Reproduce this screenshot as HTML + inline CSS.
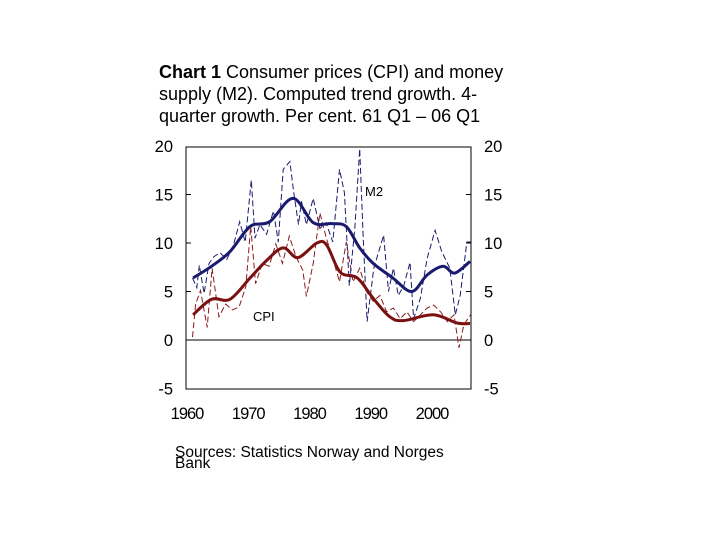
<!DOCTYPE html>
<html><head><meta charset="utf-8"><style>
body{margin:0;background:#fff;}
svg text{font-family:"Liberation Sans",Arial,sans-serif;}
</style></head><body>
<svg width="720" height="540" xmlns="http://www.w3.org/2000/svg">
<g id="title" font-size="18" fill="#000">
<text x="159" y="78"><tspan font-weight="bold">Chart 1</tspan> Consumer prices (CPI) and money</text>
<text x="159" y="100">supply (M2). Computed trend growth. 4-</text>
<text x="159" y="122">quarter growth. Per cent. 61 Q1 – 06 Q1</text>
</g>
<rect x="186" y="147" width="285" height="242" fill="none" stroke="#000" stroke-width="1"/>
<g id="axes"></g>
<g id="series"></g>
<text x="365" y="196" font-size="13">M2</text>
<text x="253" y="321" font-size="13">CPI</text>
<g font-size="15.5">
<text x="175" y="457">Sources: Statistics Norway and Norges</text>
<text x="175" y="468">Bank</text>
</g>
</svg>
<script>
const yTicks=[20,15,10,5,0,-5];
const xTicks=[1960,1970,1980,1990,2000];
const m2TrendYears=[1961,1964,1967,1970.3,1973.5,1977.3,1980.6,1983.7,1986,1988.2,1990.4,1993.6,1996.7,1999.2,2001.8,2003.7,2006.2];
const m2TrendVals=[6.4,7.6,9.1,11.7,12.2,14.6,12.1,12,11.7,9.5,7.9,6.4,5.0,6.7,7.6,6.9,8.1];
const cpiTrendYears=[1961,1964,1967,1970.3,1973,1975.7,1978.1,1981.2,1982.8,1985,1987.8,1990.4,1993.1,1995.3,2000.2,2004.1,2006.2];
const cpiTrendVals=[2.6,4.2,4.2,6.4,8.2,9.5,8.5,10,9.8,7.0,6.4,4.3,2.4,2.0,2.6,1.75,1.7];
const m2RawYears=[1960.9,1961.6,1962,1962.8,1963.6,1964.4,1965.4,1966.5,1967.6,1968.6,1969.5,1970.5,1971.1,1971.9,1973,1974.1,1974.9,1975.7,1976.8,1977.4,1978.2,1978.7,1979.5,1980.6,1981.7,1982.7,1983.8,1984.9,1985.7,1986.5,1987.4,1988.2,1988.8,1989.4,1990.5,1992.1,1992.9,1993.7,1994.5,1995.4,1996.4,1997,1998.1,1999.2,2000.5,2001.6,2002.9,2003.8,2004.6,2005.7,2006.3];
const m2RawVals=[6.4,5.4,7.7,4.8,7.9,8.6,9.0,8.3,9.8,12.2,10.1,16.5,10.5,11.9,10.9,13.3,10.1,17.6,18.4,15.3,11.9,14.3,11.9,14.6,11.5,12.1,10.1,17.6,15.2,5.6,11.5,19.7,10.1,1.9,7.4,10.8,5.0,7.4,4.6,5.6,8.0,2.2,4.3,8.4,11.3,9.1,7.4,2.6,4.6,10.1,10.1];
const cpiRawYears=[1960.9,1961.4,1962.2,1963.3,1964.1,1965.2,1966.3,1967.4,1968.5,1969.6,1970.4,1971.2,1972.3,1973.4,1974.5,1975.6,1976.7,1977.8,1978.9,1979.5,1980.6,1981.7,1982.8,1983.8,1984.9,1986,1987.1,1988.2,1989.3,1990.4,1991.5,1992.6,1993.7,1994.8,1995.9,1997,1998.1,1999.2,2000.3,2001.4,2002.5,2003.6,2004.4,2005.2,2006.3];
const cpiRawVals=[0.3,3.7,5.1,1.3,7.4,2.4,3.7,3.1,3.4,5.5,11.7,5.8,7.9,7.6,9.9,7.9,10.7,8.6,7.2,4.5,7.9,13.1,10.4,8.4,6.0,10.1,6.0,7.4,5.0,4.0,4.6,2.9,3.3,2.2,2.9,1.9,2.6,3.3,3.6,2.9,1.9,2.6,-0.8,1.6,2.6];

const NS='http://www.w3.org/2000/svg';
const X=yr=>187+(yr-1960)*6.125;
const Y=v=>340-v*9.7;
function mk(tag,attrs,parent){const e=document.createElementNS(NS,tag);for(const k in attrs)e.setAttribute(k,attrs[k]);parent.appendChild(e);return e;}
const axes=document.getElementById('axes');
yTicks.forEach(v=>{
  const t1=mk('text',{x:173,y:Y(v)+6,'text-anchor':'end','font-size':16.5},axes);t1.textContent=v;
  
  
  const t2=mk('text',{x:484,y:Y(v)+6,'font-size':16.5},axes);t2.textContent=v;
  
  
  if(v<20&&v>-5){
    const a=mk('line',{x1:186,x2:191,y1:Y(v),y2:Y(v),stroke:'#000'},axes);
    
    
    const b=mk('line',{x1:466,x2:471,y1:Y(v),y2:Y(v),stroke:'#000'},axes);
    
    
  }
});
const z=mk('line',{x1:186,x2:471,y1:Y(0),y2:Y(0),stroke:'#000'},axes);


xTicks.forEach(yr=>{
  const t=mk('text',{x:X(yr),y:419,'text-anchor':'middle','font-size':16.5,'letter-spacing':'-1'},axes);t.textContent=yr;
  
  
});
const ser=document.getElementById('series');
function line(xs,vs,attrs,name){
  const pts=xs.map((x,i)=>X(x).toFixed(1)+','+Y(vs[i]).toFixed(1)).join(' ');
  const p=mk('polyline',Object.assign({points:pts,fill:'none'},attrs),ser);
  
  
}
function smooth(xs,vs,attrs,name){
  const P=xs.map((x,i)=>[X(x),Y(vs[i])]);
  let d='M'+P[0][0].toFixed(1)+','+P[0][1].toFixed(1);
  for(let i=0;i<P.length-1;i++){
    const p0=P[Math.max(0,i-1)],p1=P[i],p2=P[i+1],p3=P[Math.min(P.length-1,i+2)];
    const c1=[p1[0]+(p2[0]-p0[0])/6,p1[1]+(p2[1]-p0[1])/6];
    const c2=[p2[0]-(p3[0]-p1[0])/6,p2[1]-(p3[1]-p1[1])/6];
    d+=' C'+c1.map(n=>n.toFixed(1)).join(',')+' '+c2.map(n=>n.toFixed(1)).join(',')+' '+p2.map(n=>n.toFixed(1)).join(',');
  }
  const p=mk('path',Object.assign({d:d,fill:'none'},attrs),ser);
  
  
}
line(cpiRawYears,cpiRawVals,{stroke:'#8b1a1a','stroke-width':1,'stroke-dasharray':'6,3'},'cpi-quarterly-line');
line(m2RawYears,m2RawVals,{stroke:'#1a1a70','stroke-width':1,'stroke-dasharray':'6,3'},'m2-quarterly-line');
smooth(cpiTrendYears,cpiTrendVals,{stroke:'#7a1010','stroke-width':3,'stroke-linejoin':'round'},'cpi-trend-line');
smooth(m2TrendYears,m2TrendVals,{stroke:'#1a1a6e','stroke-width':3,'stroke-linejoin':'round'},'m2-trend-line');
</script>
</body></html>
